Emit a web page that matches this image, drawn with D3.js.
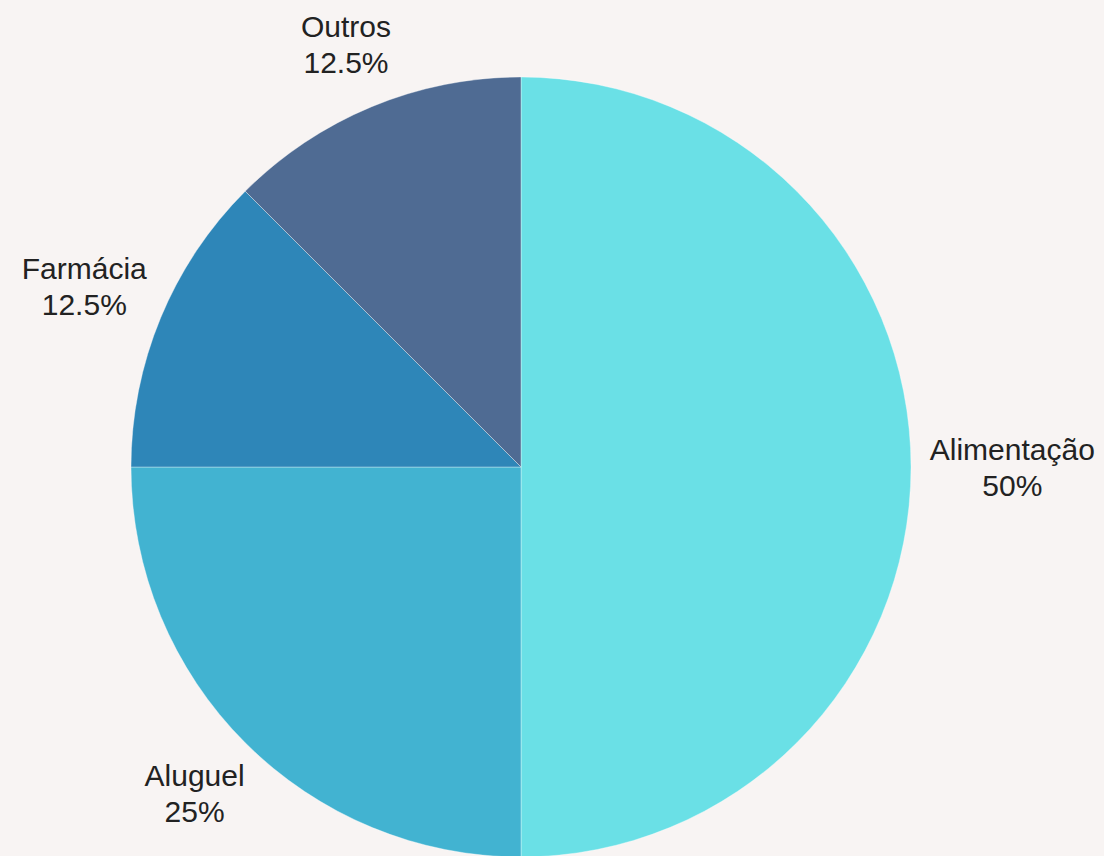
<!DOCTYPE html>
<html>
<head>
<meta charset="utf-8">
<script src="https://cdn.jsdelivr.net/npm/d3@7"></script>
<style>
  html, body { margin: 0; padding: 0; background: #f8f4f3; }
  svg { display: block; }
  .label text { font-family: "Liberation Sans", Arial, sans-serif; font-size: 30px; fill: #222; }
</style>
</head>
<body>
<svg id="chart"></svg>
<script>
const categories = ['Alimentação', 'Aluguel', 'Farmácia', 'Outros'];
const values = [50, 25, 12.5, 12.5];
const percentLabels = ['50%', '25%', '12.5%', '12.5%'];
const colors = ['#6ae0e6', '#42b3d1', '#2e86b8', '#4f6b93'];

const width = 1104, height = 856;
const cx = 521, cy = 467, radius = 390;
const lineGap = 36;

const svg = d3.select('#chart')
    .attr('width', width)
    .attr('height', height);

const data = categories.map((c, i) => ({ name: c, value: values[i], pct: percentLabels[i], color: colors[i] }));

const pie = d3.pie()
    .sort(null)
    .value(d => d.value);

const arc = d3.arc()
    .innerRadius(0)
    .outerRadius(radius);

const g = svg.append('g')
    .attr('transform', `translate(${cx},${cy})`);

const arcs = pie(data);

g.selectAll('path')
    .data(arcs)
    .join('path')
    .attr('d', arc)
    .attr('fill', d => d.data.color)
    .attr('stroke', 'rgba(255,255,255,0.35)')
    .attr('stroke-width', 1);

// labels: block of two lines pushed outward along the slice's mid angle
const labels = g.selectAll('g.label')
    .data(arcs)
    .join('g')
    .attr('class', 'label');

labels.append('text')
    .attr('class', 'name')
    .attr('text-anchor', 'middle')
    .text(d => d.data.name);
labels.append('text')
    .attr('class', 'pct')
    .attr('text-anchor', 'middle')
    .text(d => d.data.pct);

labels.each(function (d) {
    const sel = d3.select(this);
    const w = Math.max(
        sel.select('.name').node().getComputedTextLength(),
        sel.select('.pct').node().getComputedTextLength());
    const hw = w / 2, hh = (lineGap + 21) / 2;
    const r = radius + 14 + Math.hypot(hw, hh);
    const a = (d.startAngle + d.endAngle) / 2;
    const x = Math.sin(a) * r, y = -Math.cos(a) * r;
    sel.select('.name').attr('x', x).attr('y', y - lineGap / 2 + 10.7);
    sel.select('.pct').attr('x', x).attr('y', y + lineGap / 2 + 10.7);
});
</script>
</body>
</html>
